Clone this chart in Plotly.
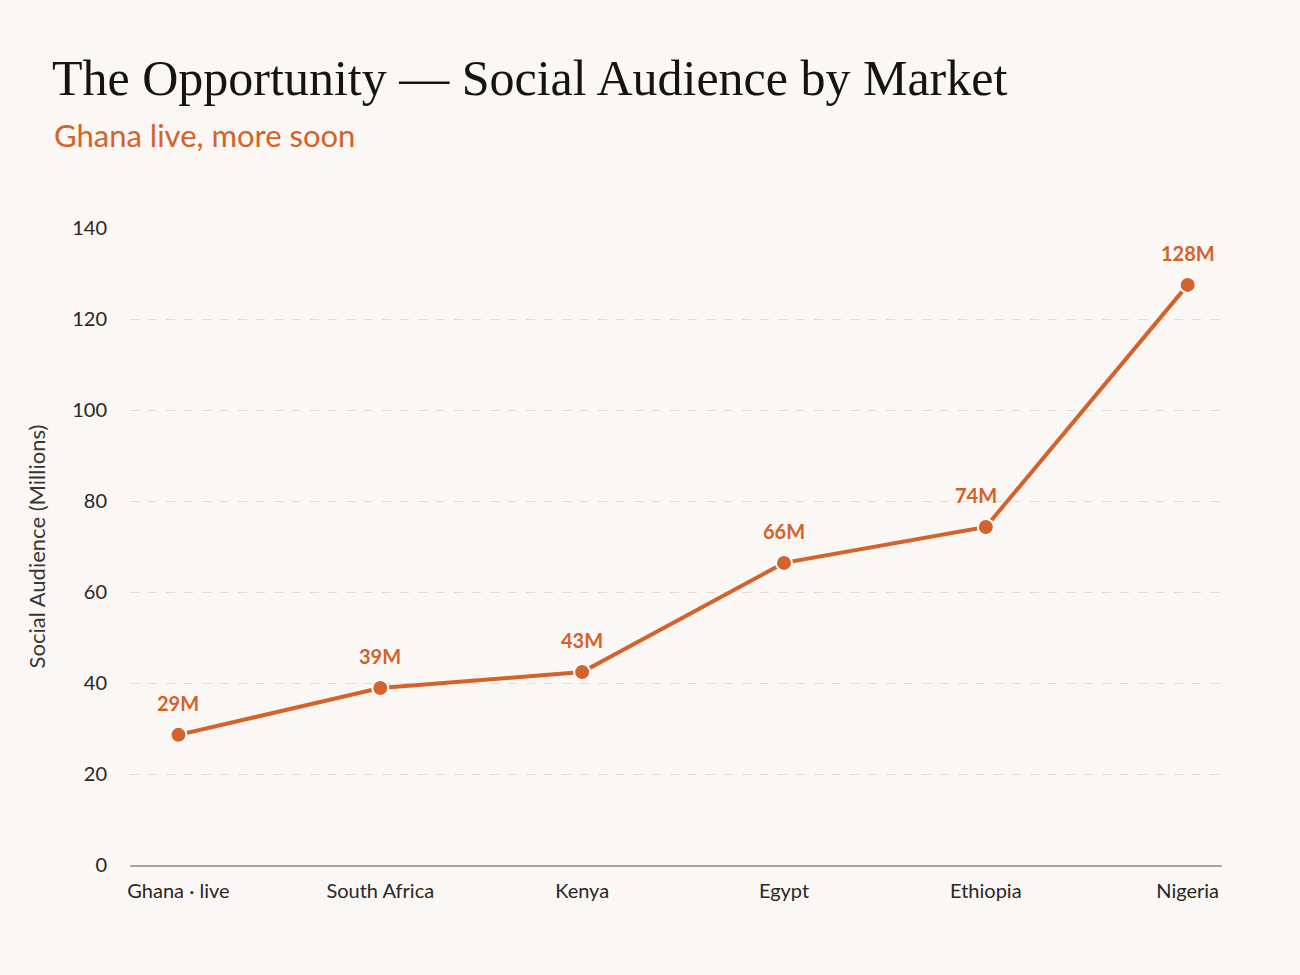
import plotly.graph_objects as go

markets = ["Ghana · live", "South Africa", "Kenya", "Egypt", "Ethiopia", "Nigeria"]
audience = [28.6, 38.9, 42.4, 66.4, 74.3, 127.5]
labels = ["29M", "39M", "43M", "66M", "74M", "128M"]
y_ticks = [0, 20, 40, 60, 80, 100, 120, 140]

ORANGE = "#D4622A"
BG = "#FAF7F4"

fig = go.Figure()
fig.add_trace(go.Scatter(
    x=markets, y=audience, mode="lines+markers",
    line=dict(color=ORANGE, width=4),
    marker=dict(size=16, color=ORANGE, line=dict(color="white", width=2)),
    cliponaxis=False, hoverinfo="skip", showlegend=False,
))

annos = []
for m, v, t in zip(markets, audience, labels):
    annos.append(dict(
        x=m, y=v, text=t, showarrow=False, yshift=32,
        xshift=-10 if m == "Ethiopia" else 0,
        font=dict(family="Lato", size=20, color=ORANGE, weight=700),
        xanchor="center", yanchor="middle",
    ))
annos.append(dict(
    text="Ghana live, more soon", xref="paper", yref="paper",
    x=(52-130)/1092, y=1+(228-135)/637, xanchor="left", yanchor="middle",
    showarrow=False, font=dict(family="Lato", size=31, color=ORANGE),
))

fig.update_layout(
    width=1300, height=975,
    paper_bgcolor=BG, plot_bgcolor=BG,
    margin=dict(l=130, r=78, t=228, b=110),
    title=dict(
        text="The Opportunity — Social Audience by Market",
        x=52/1300, xanchor="left", xref="container", y=1-77/975, yanchor="middle", yref="container",
        font=dict(family="Liberation Serif", size=50, color="#161412"),
    ),
    annotations=annos,
    xaxis=dict(
        type="category", range=[-0.24, 5.17],
        showgrid=False, showline=True, linecolor="#A8A4A0", linewidth=1.5,
        ticks="", tickfont=dict(family="Lato", size=20, color="#2A2624"),
        ticklabelstandoff=7, zeroline=False,
    ),
    yaxis=dict(
        range=[0, 140], tickvals=y_ticks,
        showgrid=True, gridcolor="#E2DDD7", griddash="dash", gridwidth=1,
        zeroline=False, showline=False, ticks="",
        tickfont=dict(family="Lato", size=20, color="#2A2624"),
        ticklabelstandoff=22,
        title=dict(text="Social Audience (Millions)", standoff=20,
                   font=dict(family="Lato", size=22, color="#3A3634")),
    ),
)

fig.write_html("out.html")
